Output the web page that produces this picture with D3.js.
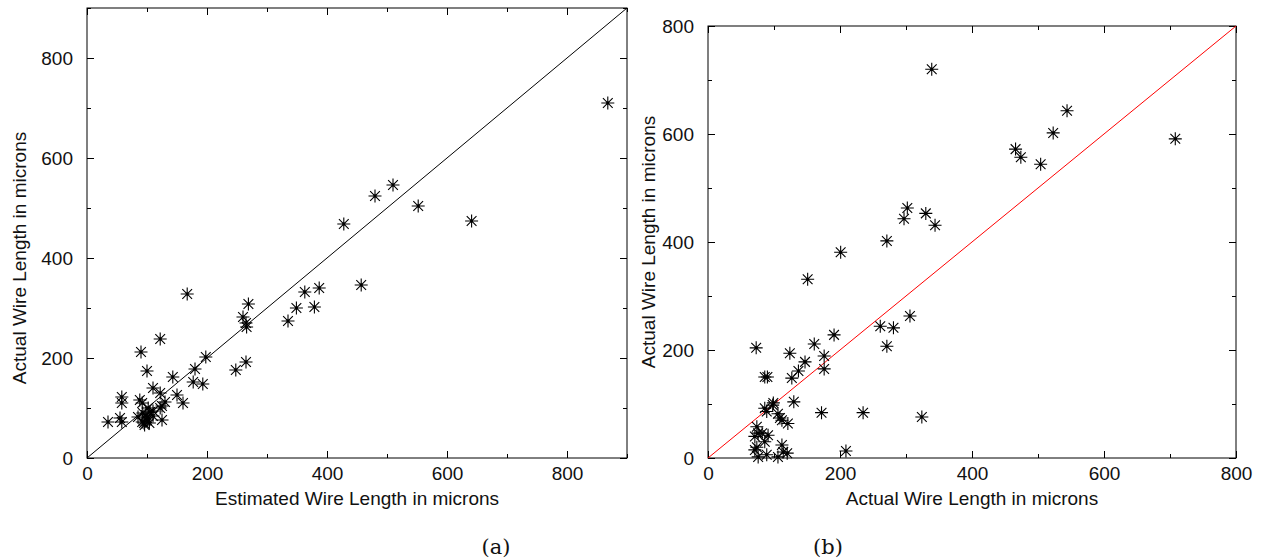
<!DOCTYPE html>
<html>
<head>
<meta charset="utf-8">
<script src="https://cdn.jsdelivr.net/npm/d3@7"></script>
<style>
  html, body { margin: 0; padding: 0; background: #fff; }
  svg { display: block; }
  text { font-family: "Liberation Sans", Arial, sans-serif; fill: #111; }
</style>
</head>
<body>
<svg id="chart" width="1263" height="560"></svg>
<script>
// ---------- data ----------
// Plot (a): estimated vs actual wire length
const estimatedA = [868, 510, 480, 428, 552, 641, 457, 387, 363, 349, 379, 335, 269, 260, 265, 266,
  198, 248, 265, 167, 122, 90, 100, 180, 143, 177, 193, 110, 122, 150, 160, 58, 58, 88, 92, 130,
  125, 122, 35, 55, 58, 93, 100, 92, 105, 110, 125, 85, 98, 100, 95, 110, 102, 96, 104];
const actualA = [710, 546, 524, 468, 504, 474, 346, 340, 332, 300, 302, 274, 308, 282, 270, 262,
  202, 176, 192, 328, 238, 212, 174, 178, 162, 152, 148, 140, 130, 126, 110, 122, 110, 116, 110, 112,
  104, 100, 72, 80, 72, 90, 80, 72, 92, 84, 76, 82, 86, 76, 70, 94, 100, 66, 70];

// Plot (b): actual vs actual wire length
const actualBx = [339, 544, 523, 466, 474, 504, 708, 302, 297, 330, 344, 271, 201, 151, 306, 261,
  281, 191, 161, 271, 324, 73, 124, 176, 176, 147, 137, 127, 86, 90, 130, 172, 235, 209, 86, 98,
  106, 112, 121, 74, 76, 91, 86, 71, 76, 89, 112, 114, 106, 120, 82, 74, 71, 99, 89, 109];
const actualBy = [720, 643, 602, 572, 557, 544, 591, 463, 443, 453, 431, 402, 381, 331, 263, 244,
  241, 228, 211, 207, 76, 204, 194, 189, 165, 178, 161, 148, 150, 150, 104, 84, 84, 13, 92, 98,
  82, 70, 64, 58, 46, 42, 30, 15, 2, 6, 24, 11, 2, 9, 46, 20, 40, 102, 86, 74];

const majorTicksA = [0, 200, 400, 600, 800];
const minorTicksA = [100, 300, 500, 700, 900];
const majorTicksB = [0, 200, 400, 600, 800];
const minorTicksB = [100, 300, 500, 700];

const titlesA = { x: "Estimated Wire Length in microns", y: "Actual Wire Length in microns" };
const titlesB = { x: "Actual Wire Length in microns", y: "Actual Wire Length in microns" };
const captions = ["(a)", "(b)"];

// ---------- drawing ----------
const svg = d3.select("#chart");

function starPath(r) {
  return `M${-r},0L${r},0M0,${-r}L0,${r}` +
         `M${-r*0.75},${-r*0.75}L${r*0.75},${r*0.75}M${-r*0.75},${r*0.75}L${r*0.75},${-r*0.75}`;
}

function panel(opts) {
  const { xs, ys, xDomain, yDomain, xRange, yRange, major, minor, titles, lineColor, caption, yTitleY, yTitleX } = opts;
  const x = d3.scaleLinear().domain(xDomain).range(xRange);
  const y = d3.scaleLinear().domain(yDomain).range(yRange);
  const g = svg.append("g");

  const fs = 19;
  const mk = (axisFn, scale, vals, size, fmt, pad) =>
    axisFn(scale).tickValues(vals).tickSize(size).tickPadding(pad).tickFormat(fmt);

  // bottom
  g.append("g").attr("transform", `translate(0,${yRange[0]})`)
    .call(mk(d3.axisBottom, x, major, -7, d3.format("d"), 9));
  g.append("g").attr("transform", `translate(0,${yRange[0]})`)
    .call(mk(d3.axisBottom, x, minor, -4, () => "", 9));
  // top
  g.append("g").attr("transform", `translate(0,${yRange[1]})`)
    .call(mk(d3.axisTop, x, major, -7, () => "", 9));
  g.append("g").attr("transform", `translate(0,${yRange[1]})`)
    .call(mk(d3.axisTop, x, minor, -4, () => "", 9));
  // left
  g.append("g").attr("transform", `translate(${xRange[0]},0)`)
    .call(mk(d3.axisLeft, y, major, -7, d3.format("d"), 14));
  g.append("g").attr("transform", `translate(${xRange[0]},0)`)
    .call(mk(d3.axisLeft, y, minor, -4, () => "", 14));
  // right
  g.append("g").attr("transform", `translate(${xRange[1]},0)`)
    .call(mk(d3.axisRight, y, major, -7, () => "", 14));
  g.append("g").attr("transform", `translate(${xRange[1]},0)`)
    .call(mk(d3.axisRight, y, minor, -4, () => "", 14));

  g.selectAll(".domain").remove();
  g.selectAll(".tick line").attr("stroke", "#000").attr("stroke-width", 1);
  g.selectAll(".tick text").style("font-size", fs + "px")
    .style("font-family", '"Liberation Sans", Arial, sans-serif').attr("fill", "#111");

  // frame
  g.append("rect")
    .attr("x", xRange[0]).attr("y", yRange[1])
    .attr("width", xRange[1] - xRange[0]).attr("height", yRange[0] - yRange[1])
    .attr("fill", "none").attr("stroke", "#000").attr("stroke-width", 1);

  // diagonal
  const lim = Math.min(xDomain[1], yDomain[1]);
  g.append("line")
    .attr("x1", x(0)).attr("y1", y(0)).attr("x2", x(lim)).attr("y2", y(lim))
    .attr("stroke", lineColor).attr("stroke-width", 1);

  // points
  const pts = xs.map((v, i) => [v, ys[i]]);
  const pg = g.append("g");
  pg.selectAll("path.star").data(pts).join("path")
    .attr("class", "star")
    .attr("transform", d => `translate(${x(d[0])},${y(d[1])})`)
    .attr("d", starPath(6.5))
    .attr("stroke", "#000").attr("stroke-width", 1.1).attr("fill", "none");
  pg.selectAll("circle").data(pts).join("circle")
    .attr("cx", d => x(d[0])).attr("cy", d => y(d[1])).attr("r", 1.4).attr("fill", "#000");

  // titles
  g.append("text")
    .attr("x", (xRange[0] + xRange[1]) / 2).attr("y", 505)
    .attr("text-anchor", "middle").style("font-size", fs + "px").text(titles.x);
  g.append("text")
    .attr("transform", `translate(${yTitleX},${yTitleY}) rotate(-90)`)
    .attr("text-anchor", "middle").style("font-size", fs + "px").text(titles.y);

  // caption
  svg.append("text")
    .attr("x", opts.captionX).attr("y", 554)
    .attr("text-anchor", "middle")
    .style("font-family", '"DejaVu Serif", "Liberation Serif", serif')
    .style("font-size", "21px").text(caption);
}

panel({
  xs: estimatedA, ys: actualA,
  xDomain: [0, 900], yDomain: [0, 900],
  xRange: [87, 627], yRange: [458, 8],
  major: majorTicksA, minor: minorTicksA,
  titles: titlesA, lineColor: "#000", caption: captions[0], captionX: 496,
  yTitleX: 26, yTitleY: 258
});

panel({
  xs: actualBx, ys: actualBy,
  xDomain: [0, 800], yDomain: [0, 800],
  xRange: [708, 1236], yRange: [458, 26],
  major: majorTicksB, minor: minorTicksB,
  titles: titlesB, lineColor: "#ff0000", caption: captions[1], captionX: 828,
  yTitleX: 655, yTitleY: 242
});
</script>
</body>
</html>
